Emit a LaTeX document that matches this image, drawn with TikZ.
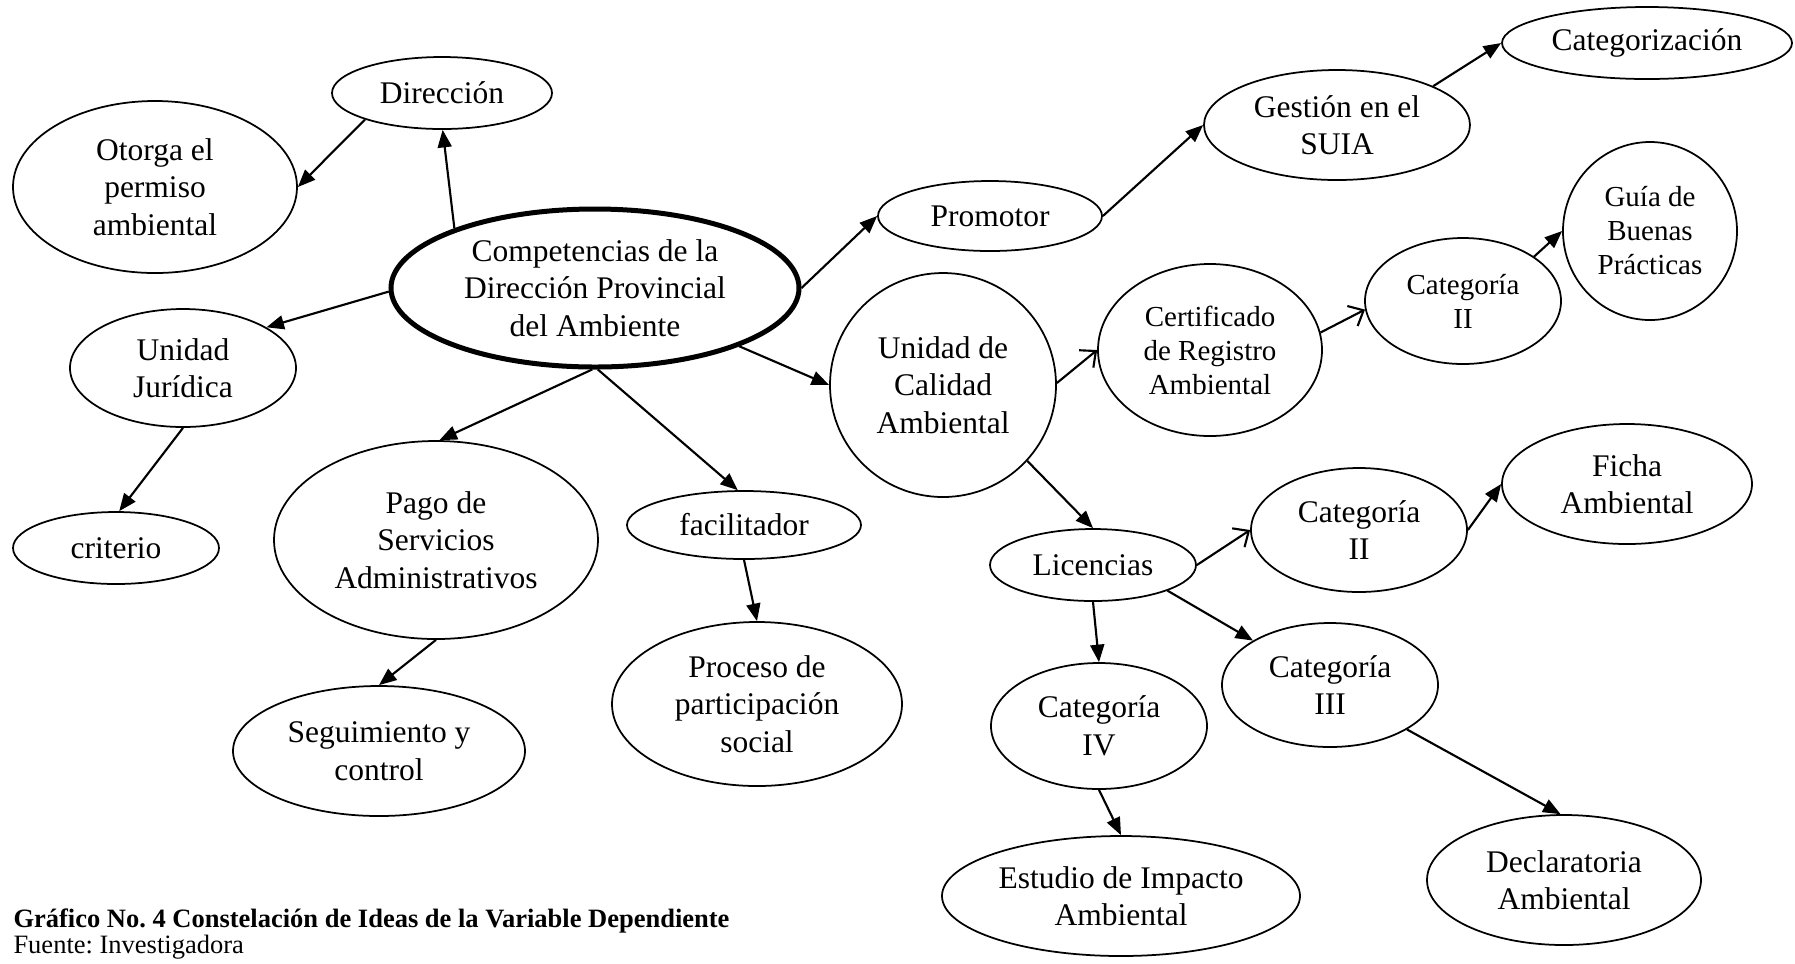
\documentclass[tikz,border=0pt]{standalone}
\usepackage{fontspec}
\setmainfont{Liberation Serif}
\usetikzlibrary{shapes.geometric,arrows.meta}
\frenchspacing
\begin{document}
\begin{tikzpicture}[x=0.4pt,y=-0.4pt,
  E/.style 2 args={ellipse,draw,line width=0.7pt,inner sep=0pt,align=center,
    minimum width=#1*0.8pt,minimum height=#2*0.8pt,font=\fontsize{12.6}{15}\selectfont},
  sm/.style={font=\fontsize{11.6}{13.6}\selectfont},
  hub/.style={line width=2pt},
  arr/.style={-{Triangle[length=7pt,width=5.6pt]},line width=0.85pt},
  opn/.style={-{Straight Barb[length=5pt,width=9pt,line width=0.85pt]},line width=0.85pt},
  capt/.style={anchor=base west,inner sep=0pt}]
\useasboundingbox (0,0) rectangle (1795,963);

% nodes
\node[E={110}{36}] (dir) at (442,93) {Dirección};
\node[E={142}{86}] (oto) at (155,187) {Otorga el\\permiso\\ambiental};
\node[E={204}{79},hub] (comp) at (595,288) {Competencias de la\\Dirección Provincial\\del Ambiente};
\node[E={113}{59}] (uj) at (183,368) {Unidad\\Jurídica};
\node[E={103}{36}] (cri) at (116,548) {criterio};
\node[E={162}{99}] (pago) at (436,540) {Pago de\\Servicios\\Administrativos};
\node[E={117}{34}] (fac) at (744,525) {facilitador};
\node[E={146}{65}] (seg) at (379,751) {Seguimiento y\\control};
\node[E={145}{82}] (proc) at (757,704) {Proceso de\\participación\\social};
\node[E={112}{35}] (prom) at (990,216) {Promotor};
\node[E={133}{55}] (ges) at (1337,125) {Gestión en el\\SUIA};
\node[E={145}{36}] (cat) at (1647,43) {Categorización};
\node[E={113}{112}] (uca) at (943,385) {Unidad de\\Calidad\\Ambiental};
\node[E={112}{86},sm] (cert) at (1210,350) {Certificado\\de Registro\\Ambiental};
\node[E={98}{63},sm] (c2a) at (1463,301) {Categoría\\II};
\node[E={87}{89},sm] (guia) at (1650,231) {Guía de\\Buenas\\Prácticas};
\node[E={103}{36}] (lic) at (1093,565) {Licencias};
\node[E={108}{62}] (c2b) at (1359,530) {Categoría\\II};
\node[E={125}{60}] (ficha) at (1627,484) {Ficha\\Ambiental};
\node[E={108}{62}] (c3) at (1330,685) {Categoría\\III};
\node[E={108}{63}] (c4) at (1099,726) {Categoría\\IV};
\node[E={179}{60}] (est) at (1121,896) {Estudio de Impacto\\Ambiental};
\node[E={137}{65}] (decl) at (1564,880) {Declaratoria\\Ambiental};

% connectors
\draw[arr] (comp.157.7) -- (dir.-89);
\draw[arr] (dir.199.3) -- (oto.0);
\draw[arr] (comp.181) -- (uj.26);
\draw[arr] (uj.-90) -- (cri.85);
\draw[arr] (comp.-92) -- (pago.88);
\draw[arr] (comp.-88) -- (fac.100);
\draw[arr] (pago.-90) -- (seg.90);
\draw[arr] (fac.-90) -- (proc.90);
\draw[arr] (comp.0) -- (prom.180);
\draw[arr] (prom.0) -- (ges.180);
\draw[arr] (ges.22.8) -- (cat.180);
\draw[arr] (comp.-22.5) -- (uca.180);
\draw[opn] (uca.1) -- (cert.180);
\draw[opn] (cert.9) -- (c2a.185);
\draw[arr] (c2a.32.7) -- (guia.180);
\draw[arr] (uca.-42.5) -- (lic.90);
\draw[opn] (lic.0) -- (c2b.180);
\draw[arr] (c2b.0) -- (ficha.180);
\draw[arr] (lic.-19.4) -- (c3.150);
\draw[arr] (lic.-90) -- (c4.90);
\draw[arr] (c4.-90) -- (est.90);
\draw[arr] (c3.-30) -- (decl.93);

% caption
\node[capt,font=\bfseries\fontsize{10.6}{10.6}\selectfont] (cap1) at (13,927) {Gráfico No. 4 Constelación de Ideas de la Variable Dependiente};
\node[capt,font=\fontsize{10.6}{10.6}\selectfont] (cap2) at (13,953) {Fuente: Investigadora};
\end{tikzpicture}
\end{document}
